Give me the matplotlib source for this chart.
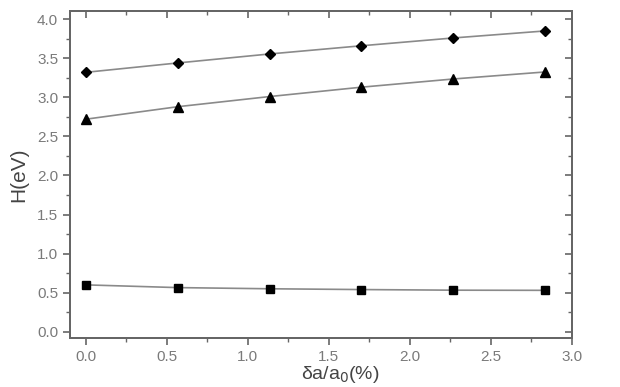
import matplotlib
matplotlib.use("Agg")
import matplotlib.pyplot as plt
from matplotlib.ticker import MultipleLocator, FormatStrFormatter

x = [0.0, 0.567, 1.134, 1.701, 2.268, 2.835]
diamonds = [3.32, 3.44, 3.555, 3.66, 3.76, 3.85]
triangles = [2.72, 2.88, 3.01, 3.13, 3.235, 3.325]
squares = [0.60, 0.565, 0.55, 0.54, 0.532, 0.53]

plt.rcParams['font.family'] = ['Liberation Sans', 'DejaVu Sans']
fig = plt.figure(figsize=(6.2, 3.87), dpi=100)
ax = fig.add_axes([70/620, 1-338/387, (572-70)/620, (338-11)/387])

lc = '#8a8a8a'
ax.plot(x, diamonds, '-', color=lc, lw=1.2, marker='D', ms=5.5, mfc='black', mec='black', zorder=3)
ax.plot(x, triangles, '-', color=lc, lw=1.2, marker='^', ms=7, mfc='black', mec='black', zorder=3)
ax.plot(x, squares, '-', color=lc, lw=1.2, marker='s', ms=6, mfc='black', mec='black', zorder=3)

ax.set_xlim(-0.097, 3.0)
ax.set_ylim(-0.08, 4.105)
ax.xaxis.set_major_locator(MultipleLocator(0.5))
ax.xaxis.set_minor_locator(MultipleLocator(0.25))
ax.yaxis.set_major_locator(MultipleLocator(0.5))
ax.yaxis.set_minor_locator(MultipleLocator(0.25))

gc = '#666666'
for s in ax.spines.values():
    s.set_color(gc)
    s.set_linewidth(1.2)
ax.tick_params(axis='both', which='major', direction='out', length=5, width=1.2, color=gc,
               labelcolor='#7a7a7a', labelsize=11)
ax.tick_params(axis='both', which='minor', direction='out', length=3, width=1.0, color=gc)
ax.xaxis.set_major_formatter(FormatStrFormatter('%.1f'))
ax.yaxis.set_major_formatter(FormatStrFormatter('%.1f'))

ax2 = ax.twinx()
ax2.set_ylim(ax.get_ylim())
ax2.yaxis.set_major_locator(MultipleLocator(0.5))
ax2.yaxis.set_minor_locator(MultipleLocator(0.25))
ax2.tick_params(axis='y', which='major', direction='in', length=5, width=1.2, color=gc, labelright=False)
ax2.tick_params(axis='y', which='minor', direction='in', length=3, width=1.0, color=gc)
ax3 = ax.twiny()
ax3.set_xlim(ax.get_xlim())
ax3.xaxis.set_major_locator(MultipleLocator(0.5))
ax3.xaxis.set_minor_locator(MultipleLocator(0.25))
ax3.tick_params(axis='x', which='major', direction='in', length=5, width=1.2, color=gc, labeltop=False)
ax3.tick_params(axis='x', which='minor', direction='in', length=3, width=1.0, color=gc)
for a in (ax2, ax3):
    for s in a.spines.values():
        s.set_color(gc)
        s.set_linewidth(1.2)

ax.set_ylabel('H(eV)', fontsize=15, color='#444444')
ax.yaxis.set_label_coords(-42/502, 0.5)
ax.set_xlabel('δa/a$_0$(%)', fontsize=14, color='#444444')
ax.xaxis.set_label_coords((340-70)/502, -26/327)

fig.savefig('out.png', dpi=100)
